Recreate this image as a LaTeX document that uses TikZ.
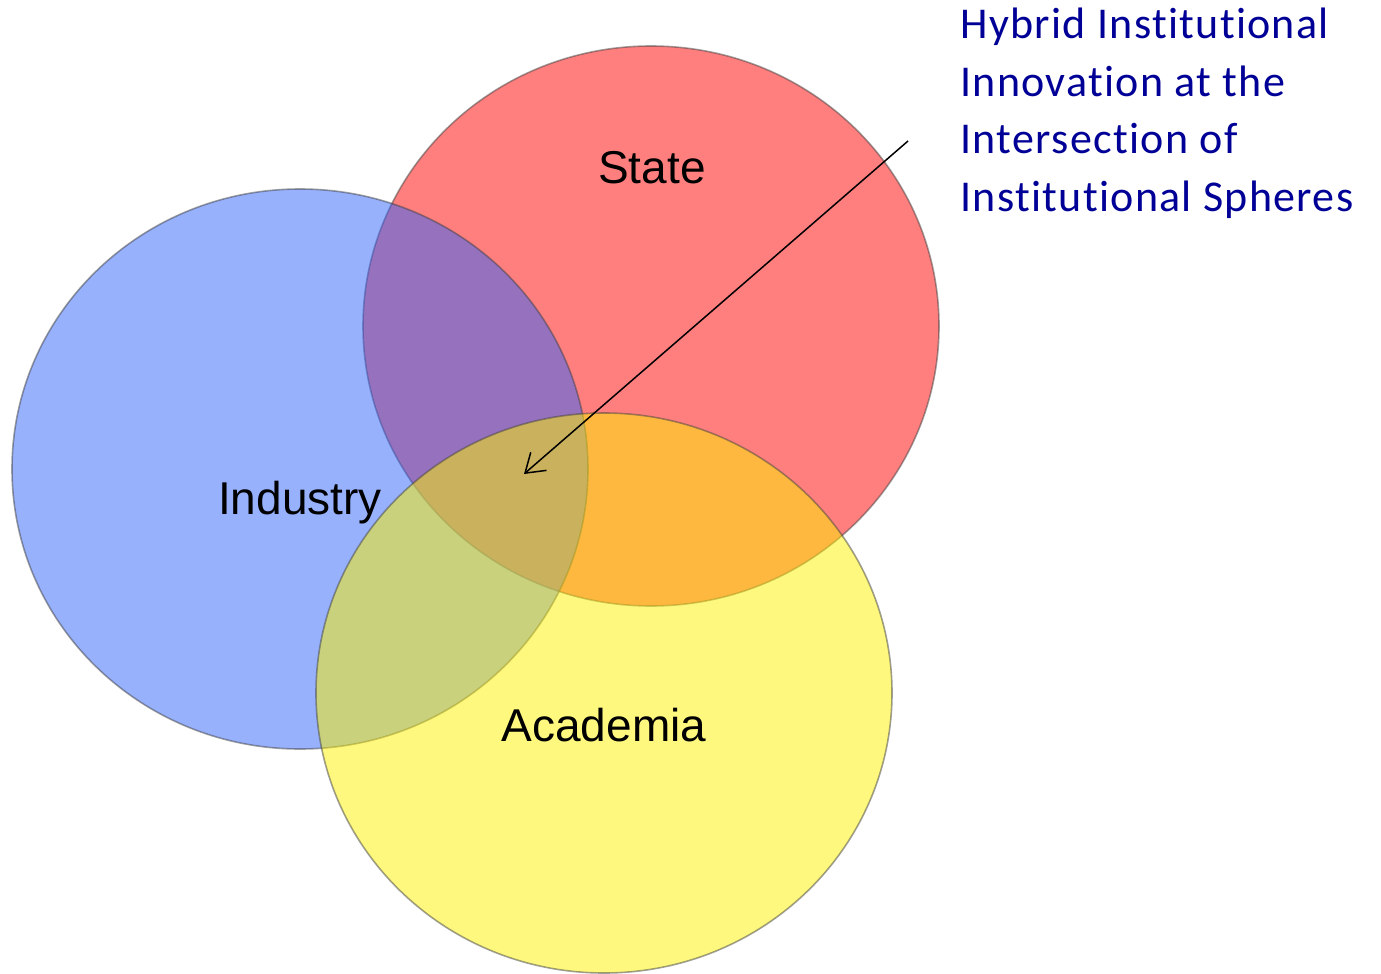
\documentclass[tikz,border=0pt]{standalone}
\usepackage{fontspec}
\setmainfont{Liberation Sans}
\newfontfamily\calib[LetterSpace=3,Ligatures=NoCommon]{Carlito}
\usetikzlibrary{shapes.geometric,arrows.meta}
\definecolor{sphereblue}{RGB}{47,99,251}
\definecolor{notetext}{RGB}{0,0,150}

\begin{document}
\begin{tikzpicture}[x=0.5pt,y=-0.5pt,
sphere/.style = {ellipse, inner sep = 0pt, minimum width = 288pt, minimum height = 280pt,
  fill opacity = 0.5, draw opacity = 0.5, draw = black!75, line width = 0.8pt},
label/.style = {font = \fontsize{23}{27}\selectfont, inner sep = 0pt}]

\useasboundingbox (0,0) rectangle (1381,974);

% the three spheres: red first, then blue, then yellow on top
\node [sphere, fill = red] (st) at (651,326) {};
\node [sphere, fill = sphereblue] (ind) at (300,469) {};
\node [sphere, fill = yellow] (ac) at (604,693) {};

\node [label] (stl) at (652,168) {State};
\node [label] (indl) at (300,503) {Industry};
\node [label] (acl) at (604,725) {Academia};

\node [anchor = north west, align = left, inner sep = 0pt, text = notetext,
  font = \calib\fontsize{22}{28.75}\selectfont] (note) at (960,8)
  {Hybrid Institutional\\Innovation at the\\Intersection of\\Institutional Spheres};

\coordinate (from) at (908,141);
\coordinate (hybrid) at (524,474);

\path[-{Straight Barb[length = 9pt, width = 12pt]}, line width = 0.75pt]
(from) edge (hybrid);
\end{tikzpicture}
\end{document}
